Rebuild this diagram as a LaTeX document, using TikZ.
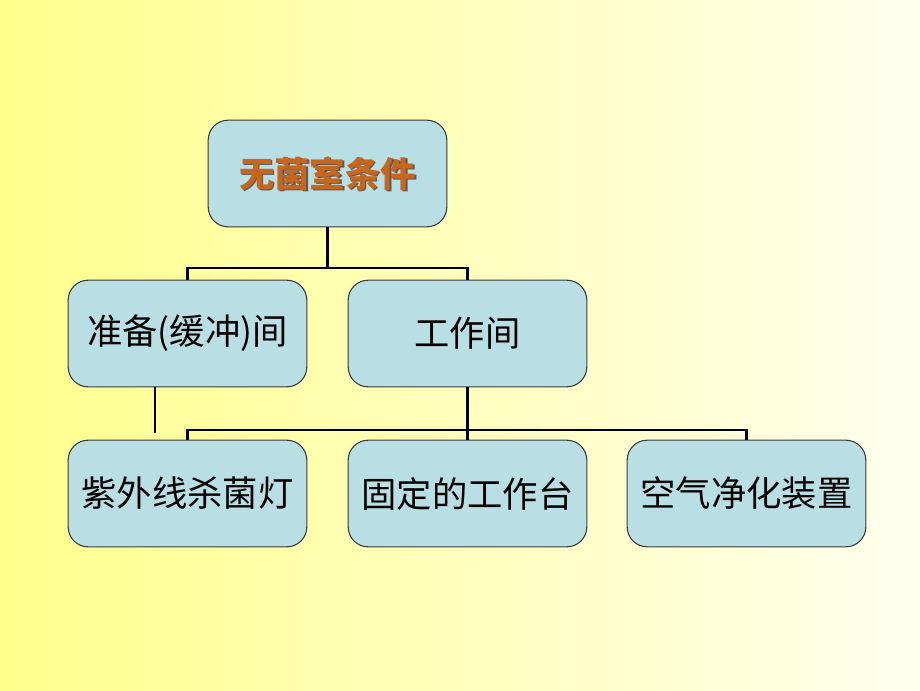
\documentclass[tikz,border=0pt]{standalone}
\usepackage{fontspec}
\newfontfamily\cjk{Noto Sans CJK SC}
\definecolor{boxfill}{HTML}{B9DFE4}
\definecolor{boxline}{HTML}{3A3A3A}
\definecolor{titlecol}{HTML}{C8661E}
\definecolor{bgleft}{HTML}{FFFF8C}
\definecolor{bgright}{HTML}{FFFFEE}
\tikzset{
  room/.style={draw=boxline,fill=boxfill,line width=0.8pt,rounded corners=15pt,
    minimum width=179pt,minimum height=80pt,inner sep=0pt,
    font=\cjk\fontsize{26.5}{30}\selectfont},
  link/.style={line width=2pt,black}
}
\begin{document}
\begin{tikzpicture}[x=0.75pt,y=-0.75pt]
  \shade[left color=bgleft,right color=bgright] (0,0) rectangle (920,690); % background
  \useasboundingbox (0,0) rectangle (920,690);
  % boxes
  \node[room] (root) at (327.5,173.5) {};
  \node[font=\cjk\bfseries\fontsize{26.5}{30}\selectfont,text=black!65] (rootshadow) at (329,175) {无菌室条件};
  \node[font=\cjk\bfseries\fontsize{26.5}{30}\selectfont,text=titlecol] (roottext) at (327.5,173.5) {无菌室条件};
  \node[room] (prep) at (187.5,333.5) {准备(缓冲)间};
  \node[room] (work) at (467.5,333.5) {工作间};
  \node[room] (uv) at (187.5,493.5) {紫外线杀菌灯};
  \node[room] (bench) at (467.5,493.5) {固定的工作台};
  \node[room] (air) at (746.5,493.5) {空气净化装置};
  % connectors
  \coordinate (j1) at (327.5,268);
  \coordinate (j2) at (467.5,430);
  \coordinate (stub) at (155,433);
  \draw[link] (root.south) -- (j1);
  \draw[link] (j1) -| (prep.north);
  \draw[link] (j1) -| (work.north);
  \draw[link] (work.south) -- (j2);
  \foreach \n in {uv,bench,air}{
    \draw[link] (j2) -| (\n.north);
  }
  \draw[link] (stub |- prep.south) -- (stub);
\end{tikzpicture}
\end{document}
